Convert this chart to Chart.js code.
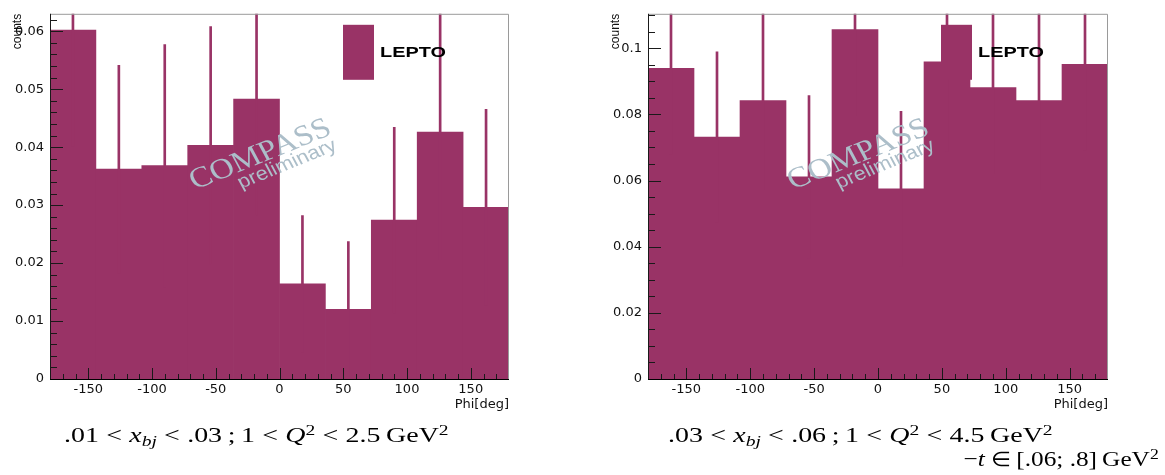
<!DOCTYPE html>
<html>
<head>
<meta charset="utf-8">
<script src="https://cdn.jsdelivr.net/npm/chart.js@4"></script>
<style>
html, body { margin: 0; padding: 0; background: #fff; width: 1165px; height: 475px; overflow: hidden; position: relative; }
canvas { position: absolute; top: 0; }
#phiLow { left: 0; }
#phiHigh { left: 582px; }
.cap { position: absolute; font-family: "Liberation Serif", "Times New Roman", serif; font-size: 22px; line-height: 22px; color: #000; white-space: nowrap; transform: scaleX(1.27); }
.cap i { font-style: italic; }
.cap .r { margin: 0 0.26em; }
.cap .el { font-size: 0.9em; }
.cap .sb { position: relative; top: 0.28em; font-size: 0.7em; }
.cap .sp { position: relative; top: -0.45em; font-size: 0.7em; }
#capLow { left: 64px; top: 424px; transform-origin: 0 0; }
#capHigh { left: 668px; top: 424px; transform-origin: 0 0; }
#capT { right: 6px; top: 448px; transform-origin: 100% 0; transform: scaleX(1.15); }
</style>
</head>
<body>
<canvas id="phiLow" width="582" height="475"></canvas>
<canvas id="phiHigh" width="583" height="475"></canvas>
<div class="cap" id="capLow">.01<span class="r">&lt;</span><i>x</i><span class="sb"><i>bj</i></span><span class="r">&lt;</span>.03&#8201;;&#8201;1<span class="r">&lt;</span><i>Q</i><span class="sp">2</span><span class="r">&lt;</span>2.5&#8201;GeV<span class="sp">2</span></div>
<div class="cap" id="capHigh">.03<span class="r">&lt;</span><i>x</i><span class="sb"><i>bj</i></span><span class="r">&lt;</span>.06&#8201;;&#8201;1<span class="r">&lt;</span><i>Q</i><span class="sp">2</span><span class="r">&lt;</span>4.5&#8201;GeV<span class="sp">2</span></div>
<div class="cap" id="capT">&minus;<i>t</i><span class="r el">&isin;</span>[.06; .8]&#8201;GeV<span class="sp">2</span></div>
<script>
// bin centres of the 10 phi bins (36 deg wide)
const phiCenters = [-162, -126, -90, -54, -18, 18, 54, 90, 126, 162];
const xTickValues = [-150, -100, -50, 0, 50, 100, 150];

// .01 < xbj < .03
const leptoLow = [0.0602, 0.0362, 0.0368, 0.0403, 0.0483, 0.0164, 0.0120, 0.0274, 0.0426, 0.0296];
const errLow = [0.020, 0.0179, 0.0209, 0.0205, 0.020, 0.0118, 0.0117, 0.0160, 0.022, 0.0169];
const yTicksLow = [0, 0.01, 0.02, 0.03, 0.04, 0.05, 0.06];

// .03 < xbj < .06
const leptoHigh = [0.0939, 0.0731, 0.0842, 0.0611, 0.1056, 0.0575, 0.0959, 0.0881, 0.0842, 0.0951];
const errHigh = [0.026, 0.0258, 0.027, 0.0246, 0.026, 0.0234, 0.027, 0.026, 0.027, 0.026];
const yTicksHigh = [0, 0.02, 0.04, 0.06, 0.08, 0.1];

const maroon = '#993366';

// ROOT-like frame: inward ticks, frame lines, legend box and watermark
const rootStyle = {
    id: 'rootStyle',
    afterDatasetsDraw(chart, args, opts) {
        const { ctx, chartArea: a, scales: { x, y } } = chart;
        ctx.save();

        // watermark (the original is a bit stretched sideways)
        ctx.fillStyle = 'rgb(172,190,201)';
        ctx.translate(a.left + 145, a.top + 176);
        ctx.scale(1.15, 1);
        ctx.rotate(-25 * Math.PI / 180);
        ctx.textBaseline = 'alphabetic';
        ctx.font = '29px "Liberation Serif"';
        ctx.fillText('COMPASS', 0, 0);
        ctx.font = '19px "Liberation Sans"';
        ctx.fillText('preliminary', 37, 16);
        ctx.restore();

        // legend
        ctx.save();
        ctx.fillStyle = maroon;
        ctx.fillRect(a.left + 293, a.top + 11, 31, 55);
        ctx.fillStyle = '#000';
        ctx.font = 'bold 14px "Liberation Sans"';
        ctx.textBaseline = 'middle';
        ctx.translate(a.left + 330, a.top + 39);
        ctx.scale(1.42, 1);
        ctx.fillText('LEPTO', 0, 0);
        ctx.restore();

        ctx.save();
        ctx.lineWidth = 1;
        // top / right frame
        ctx.strokeStyle = '#9a9a9a';
        ctx.beginPath();
        ctx.moveTo(a.left, a.top + 0.5);
        ctx.lineTo(a.right - 0.5, a.top + 0.5);
        ctx.lineTo(a.right - 0.5, a.bottom);
        ctx.stroke();

        ctx.strokeStyle = '#1a1a1a';
        ctx.beginPath();
        // x ticks every 10 deg, long ones every 50
        for (let v = -170; v <= 170; v += 10) {
            const px = Math.round(x.getPixelForValue(v)) + 0.5;
            const len = v % 50 === 0 ? 11 : 5;
            ctx.moveTo(px, a.bottom);
            ctx.lineTo(px, a.bottom - len);
        }
        // y ticks
        const n = Math.floor(y.max / opts.minor + 1e-6);
        const every = Math.round(opts.major / opts.minor);
        for (let k = 1; k <= n; k++) {
            const py = Math.round(y.getPixelForValue(k * opts.minor)) + 0.5;
            const len = k % every === 0 ? 13 : 7;
            ctx.moveTo(a.left, py);
            ctx.lineTo(a.left + len, py);
        }
        ctx.stroke();

        // axes
        ctx.beginPath();
        ctx.moveTo(a.left + 0.5, a.top);
        ctx.lineTo(a.left + 0.5, a.bottom);
        ctx.stroke();
        ctx.strokeStyle = '#000';
        ctx.beginPath();
        ctx.moveTo(a.left, a.bottom + 0.5);
        ctx.lineTo(a.right, a.bottom + 0.5);
        ctx.stroke();
        ctx.restore();
    }
};

function drawPhi(id, vals, errs, yMax, yTicks, minor, major, padLeft, padRight) {
    const canvas = document.getElementById(id);
    return new Chart(canvas.getContext('2d'), {
        type: 'bar',
        data: {
            datasets: [{
                label: 'err',
                data: phiCenters.map((c, i) => ({ x: c, y: [vals[i] - errs[i], vals[i] + errs[i]] })),
                backgroundColor: maroon,
                barThickness: 2,
                grouped: false
            }, {
                label: 'LEPTO',
                data: phiCenters.map((c, i) => ({ x: c, y: vals[i] })),
                backgroundColor: maroon,
                barPercentage: 1,
                categoryPercentage: 1,
                grouped: false
            }]
        },
        options: {
            responsive: false,
            animation: false,
            layout: { padding: { left: padLeft, right: padRight, top: 12, bottom: 62 } },
            plugins: {
                legend: { display: false },
                tooltip: { enabled: false },
                rootStyle: { minor: minor, major: major }
            },
            scales: {
                x: {
                    type: 'linear',
                    min: -180,
                    max: 180,
                    offset: false,
                    grid: { display: false, drawTicks: false },
                    border: { display: false },
                    afterBuildTicks: s => { s.ticks = xTickValues.map(v => ({ value: v })); },
                    afterFit: s => { s.height = 34; },
                    ticks: {
                        autoSkip: false, maxRotation: 0, padding: 3, color: '#111',
                        font: { family: 'DejaVu Sans', size: 13 }
                    },
                    title: {
                        display: true, text: 'Phi[deg]', align: 'end', color: '#111',
                        padding: { top: 0, bottom: 1 },
                        font: { family: 'DejaVu Sans', size: 13 }
                    }
                },
                y: {
                    min: 0,
                    max: yMax,
                    grid: { display: false, drawTicks: false },
                    border: { display: false },
                    afterBuildTicks: s => { s.ticks = yTicks.map(v => ({ value: v })); },
                    afterFit: s => { s.width = 50; },
                    ticks: {
                        padding: 6, color: '#111',
                        font: { family: 'DejaVu Sans', size: 13 },
                        callback: v => String(+v.toFixed(3))
                    },
                    title: {
                        display: true, text: 'counts', align: 'end', color: '#111',
                        padding: { top: 10, bottom: 0 },
                        font: { family: 'Liberation Sans', size: 12 }
                    }
                }
            }
        },
        plugins: [rootStyle]
    });
}

drawPhi('phiLow', leptoLow, errLow, 0.063, yTicksLow, 0.002, 0.01, 0, 73);
drawPhi('phiHigh', leptoHigh, errHigh, 0.1104, yTicksHigh, 0.005, 0.02, 16, 57);
</script>
</body>
</html>
